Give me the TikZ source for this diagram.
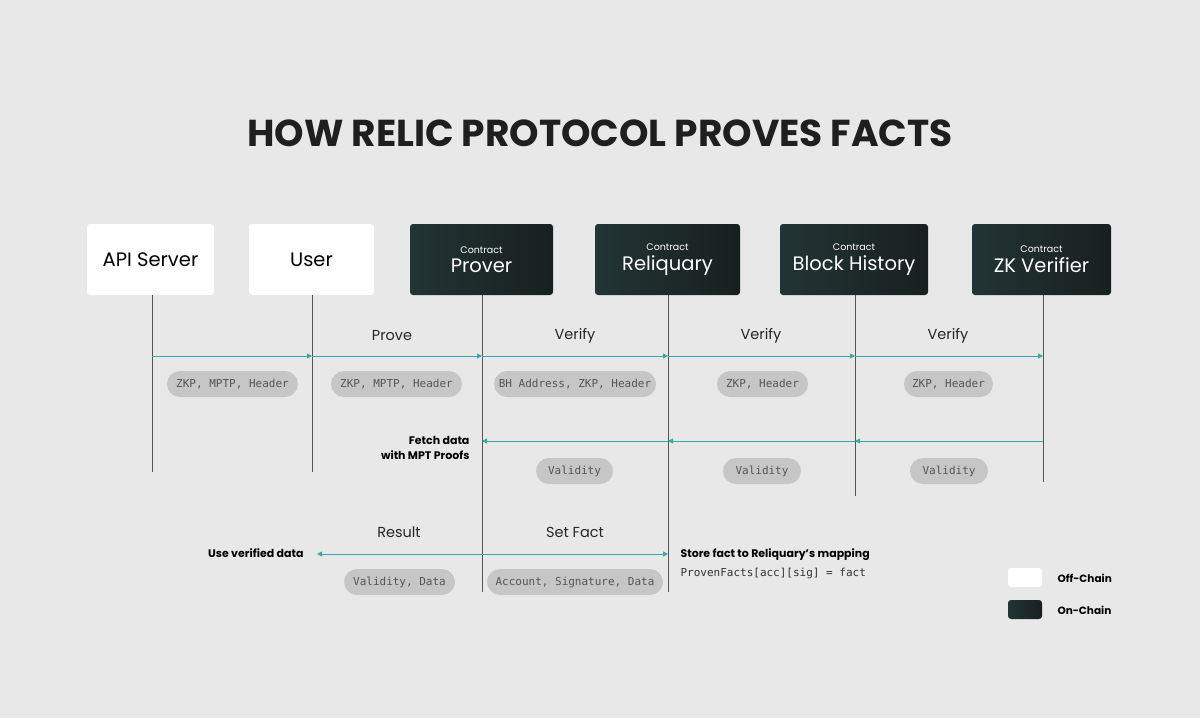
\documentclass[tikz,border=0pt]{standalone}
\usepackage{fontspec}
\setmainfont{Poppins}
\newfontfamily\monof{DejaVu Sans Mono}
\usetikzlibrary{arrows.meta}
\definecolor{bg}{HTML}{E8E8E8}
\definecolor{dark}{HTML}{223434}
\definecolor{darkb}{HTML}{18201F}
\definecolor{teal}{HTML}{3AA8A8}
\definecolor{pill}{HTML}{C6C6C6}
\definecolor{pilltxt}{HTML}{555555}
\definecolor{life}{HTML}{555555}
\begin{document}
\begin{tikzpicture}[x=1pt,y=-1pt,
  wbox/.style={fill=white,rounded corners=3pt,minimum height=71pt,font=\fontsize{19.5}{22}\selectfont,text=black,inner sep=0pt},
  dbox/.style={left color=dark,right color=darkb,rounded corners=3pt,minimum height=71pt,text=white,align=center,inner sep=0pt},
  pillst/.style={fill=pill,rounded corners=13pt,minimum height=26pt,font=\monof\fontsize{11}{12}\selectfont,text=pilltxt,inner sep=0pt},
  msg/.style={draw=teal,line width=0.9pt,-{Triangle[length=5pt,width=5pt]}},
  lab/.style={font=\fontsize{14.5}{16}\selectfont,text=black!85},
  note/.style={font=\fontsize{11}{15}\selectfont\bfseries,text=black},
  lifel/.style={draw=life,line width=0.6pt}]
\fill[bg] (0,0) rectangle (1200,718);
\useasboundingbox (0,0) rectangle (1200,718);
\node[font=\fontsize{37.5}{42}\selectfont\bfseries,text=black!88] (title) at (600,133) {HOW RELIC PROTOCOL PROVES FACTS};
% boxes
\node[wbox,minimum width=127pt] (api) at (150.5,259.5) {API Server};
\node[wbox,minimum width=125pt] (user) at (311.5,259.5) {User};
\newcommand\ctr[1]{{\fontsize{9.5}{10}\selectfont Contract}\\[4pt]{\fontsize{19.5}{22}\selectfont #1}}
\node[dbox,minimum width=143pt] (prover) at (481.5,259.5) {\ctr{Prover}};
\node[dbox,minimum width=145pt] (reliq) at (667.5,259.5) {\ctr{Reliquary}};
\node[dbox,minimum width=148pt] (bh) at (854,259.5) {\ctr{Block History}};
\node[dbox,minimum width=139pt] (zk) at (1041.5,259.5) {\ctr{ZK Verifier}};
% lifeline ends
\coordinate (apiE) at (152,472); \coordinate (userE) at (312,472);
\coordinate (provE) at (482,592); \coordinate (relE) at (668,592);
\coordinate (bhE) at (855,496); \coordinate (zkE) at (1043,482);
\draw[lifel] (api.south -| apiE) -- (apiE);
\draw[lifel] (user.south -| userE) -- (userE);
\draw[lifel] (prover.south -| provE) -- (provE);
\draw[lifel] (reliq.south -| relE) -- (relE);
\draw[lifel] (bh.south -| bhE) -- (bhE);
\draw[lifel] (zk.south -| zkE) -- (zkE);
% row 1
\coordinate (a1) at (152,356); \coordinate (u1) at (312,356); \coordinate (p1) at (482,356);
\coordinate (r1) at (668,356); \coordinate (b1) at (855,356); \coordinate (z1) at (1043,356);
\draw[msg] (a1) -- (u1); \draw[msg] (u1) -- (p1); \draw[msg] (p1) -- (r1);
\draw[msg] (r1) -- (b1); \draw[msg] (b1) -- (z1);
\node[lab] (l1) at (392,336) {Prove};
\node[lab] (l2) at (575,336) {Verify};
\node[lab] (l3) at (761,336) {Verify};
\node[lab] (l4) at (948,336) {Verify};
\node[pillst,minimum width=131pt] (q1) at (232.5,384) {ZKP, MPTP, Header};
\node[pillst,minimum width=131pt] (q2) at (396.5,384) {ZKP, MPTP, Header};
\node[pillst,minimum width=162pt] (q3) at (575,384) {BH Address, ZKP, Header};
\node[pillst,minimum width=91pt] (q4) at (762.5,384) {ZKP, Header};
\node[pillst,minimum width=89pt] (q5) at (948.5,384) {ZKP, Header};
% row 2
\coordinate (z2) at (1043,441); \coordinate (b2) at (855,441); \coordinate (r2) at (668,441); \coordinate (p2) at (482,441);
\draw[msg] (z2) -- (b2); \draw[msg] (b2) -- (r2); \draw[msg] (r2) -- (p2);
\node[note,align=right,anchor=east] (fetch) at (473,448) {Fetch data\\with MPT Proofs};
\node[pillst,minimum width=77pt] (v1) at (574.5,471) {Validity};
\node[pillst,minimum width=78pt] (v2) at (762,471) {Validity};
\node[pillst,minimum width=78pt] (v3) at (949,471) {Validity};
% row 3
\coordinate (p3) at (482,554); \coordinate (u3) at (317,554); \coordinate (r3) at (668,554);
\draw[msg] (p3) -- (u3); \draw[msg] (p3) -- (r3);
\node[lab] (res) at (399,532) {Result};
\node[lab] (sf) at (575,532) {Set Fact};
\node[note,anchor=east] (use) at (307,553) {Use verified data};
\node[note,anchor=west] (store) at (677,555) {Store fact to Reliquary’s mapping};
\node[anchor=west,font=\monof\fontsize{11}{12}\selectfont,text=black!80] (pf) at (677,573) {ProvenFacts[acc][sig] = fact};
\node[pillst,minimum width=111pt] (w1) at (399.5,582) {Validity, Data};
\node[pillst,minimum width=176pt] (w2) at (575,582) {Account, Signature, Data};
% legend
\node[fill=white,rounded corners=3pt,minimum width=34pt,minimum height=19pt,inner sep=0pt] (off) at (1025,577.5) {};
\node[left color=dark,right color=darkb,rounded corners=3pt,minimum width=34pt,minimum height=19pt,inner sep=0pt] (on) at (1025,609.5) {};
\node[note,anchor=west,font=\fontsize{10.5}{12}\selectfont\bfseries] (offl) at (1054,578) {Off-Chain};
\node[note,anchor=west,font=\fontsize{10.5}{12}\selectfont\bfseries] (onl) at (1054,610) {On-Chain};
\end{tikzpicture}
\end{document}
